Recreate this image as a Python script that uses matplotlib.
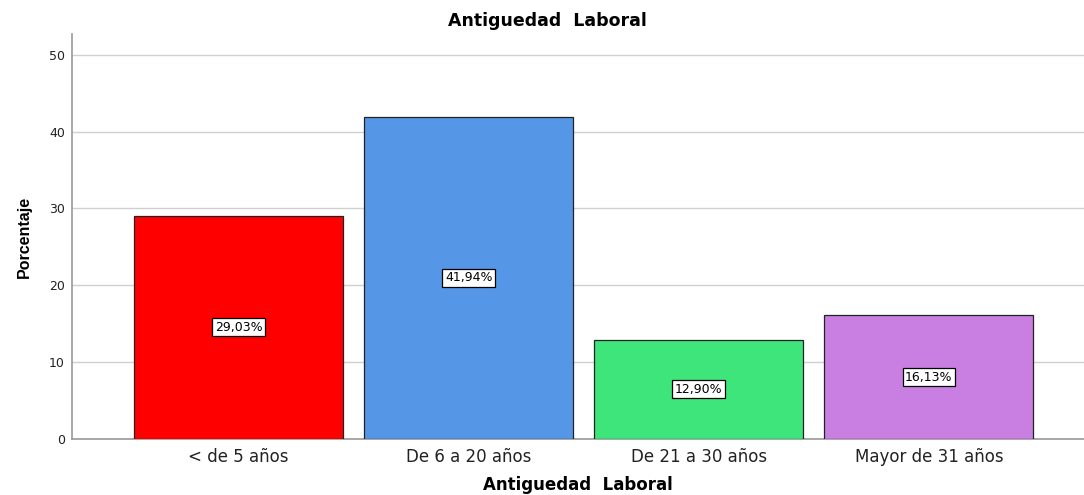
import numpy as np
import matplotlib
matplotlib.use("Agg")
import matplotlib.pyplot as plt

categorias = ["< de 5 años", "De 6 a 20 años", "De 21 a 30 años", "Mayor de 31 años"]
porcentajes = [29.03, 41.94, 12.90, 16.13]
etiquetas = ["29,03%", "41,94%", "12,90%", "16,13%"]
colores = ["#FF0000", "#5596E6", "#3EE57A", "#C97FE2"]
yticks = [0, 10, 20, 30, 40, 50]

plt.rcParams['font.family'] = ['DejaVu Sans']

fig = plt.figure(figsize=(10.84, 4.95), dpi=100)
ax = fig.add_axes([0.0664, 0.1131, 0.9336, 0.8182])

x = np.arange(len(categorias))
ax.bar(x, porcentajes, width=0.909, color=colores, edgecolor="#222222", linewidth=0.9, zorder=3)

for xi, v, t in zip(x, porcentajes, etiquetas):
    ax.text(xi, v / 2, t, ha="center", va="center", fontsize=9, zorder=4,
            bbox=dict(boxstyle="square,pad=0.2", facecolor="white", edgecolor="black", linewidth=0.9))

ax.set_xlim(-0.724, 3.674)
ax.set_ylim(0, 52.7)
ax.set_yticks(yticks)
ax.set_xticks(x)
ax.set_xticklabels(categorias, fontsize=12, color="#222222")
ax.tick_params(axis="y", length=0, pad=5, labelsize=9, labelcolor="#222222")
ax.tick_params(axis="x", length=0, pad=6.5)
ax.yaxis.grid(True, color="#D0D0D0", linewidth=1, zorder=0)
ax.set_axisbelow(True)

for s in ["top", "right"]:
    ax.spines[s].set_visible(False)
ax.spines["left"].set_color("#999999")
ax.spines["bottom"].set_color("#999999")
ax.spines["left"].set_linewidth(1.2)
ax.spines["bottom"].set_linewidth(1.2)

ax.set_xlabel("Antiguedad  Laboral", fontsize=12, fontweight="bold", labelpad=7)
ax.set_ylabel("Porcentaje", fontsize=11.5, fontweight="bold", labelpad=12,
              family=['Liberation Sans Narrow', 'Liberation Sans'])
fig.text(0.505, 0.958, "Antiguedad  Laboral", ha="center", va="center", fontsize=12.5, fontweight="bold")

fig.savefig("out.png", dpi=100)
